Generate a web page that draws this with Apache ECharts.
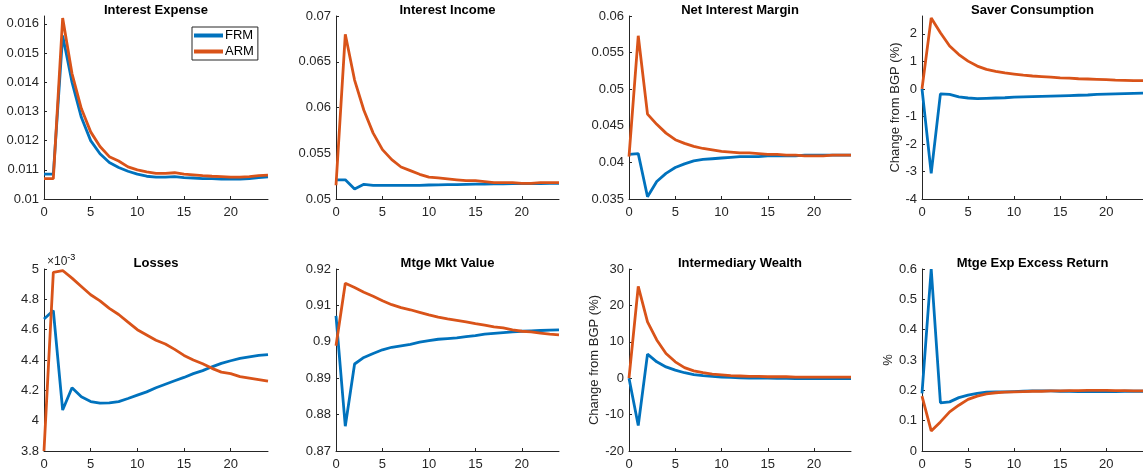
<!DOCTYPE html>
<html><head><meta charset="utf-8">
<script src="https://cdn.jsdelivr.net/npm/echarts@6/dist/echarts.min.js"></script>
<style>html,body{margin:0;padding:0;background:#fff}#c{width:1143px;height:475px}</style>
</head><body><div id="c"></div>
<script>
const periods = [0,1,2,3,4,5,6,7,8,9,10,11,12,13,14,15,16,17,18,19,20,21,22,23,24];
const xTicks = [0,5,10,15,20];

const interestExpenseFRM = [0.01085,0.01085,0.0156,0.0140,0.0128,0.0120,0.01155,0.01125,0.01108,0.01095,0.01085,0.01078,0.01075,0.01075,0.01077,0.01073,0.01072,0.0107,0.0107,0.01068,0.01068,0.01068,0.0107,0.01073,0.01076];
const interestExpenseARM = [0.0107,0.0107,0.0162,0.0143,0.0131,0.0123,0.0118,0.01145,0.0113,0.0111,0.0110,0.01093,0.01088,0.01088,0.0109,0.01085,0.01083,0.0108,0.01078,0.01077,0.01075,0.01075,0.01077,0.0108,0.01082];

const interestIncomeFRM = [0.0521,0.0521,0.0511,0.0516,0.0515,0.0515,0.0515,0.0515,0.0515,0.0515,0.05153,0.05155,0.05157,0.05158,0.0516,0.05162,0.05163,0.05165,0.05166,0.05167,0.05168,0.05168,0.05169,0.0517,0.0517];
const interestIncomeARM = [0.0515,0.0680,0.0630,0.0597,0.0572,0.0554,0.0543,0.0535,0.0531,0.0527,0.0524,0.0523,0.0522,0.0521,0.0520,0.0520,0.0519,0.0518,0.0518,0.0518,0.0517,0.0517,0.0518,0.0518,0.0518];

const nimFRM = [0.0411,0.0412,0.0353,0.0374,0.0385,0.0393,0.0398,0.0402,0.0404,0.0405,0.0406,0.0407,0.0408,0.0408,0.0408,0.0409,0.0409,0.0409,0.0409,0.0410,0.0410,0.0410,0.0410,0.0410,0.0410];
const nimARM = [0.0408,0.0573,0.0466,0.0452,0.0440,0.0431,0.0426,0.0422,0.0419,0.0417,0.0415,0.0414,0.0413,0.0413,0.0412,0.0411,0.0411,0.0410,0.0410,0.0409,0.0409,0.0409,0.0410,0.0410,0.0410];

const saverConsFRM = [0,-3.07,-0.18,-0.2,-0.29,-0.33,-0.35,-0.34,-0.33,-0.32,-0.30,-0.29,-0.28,-0.27,-0.26,-0.25,-0.24,-0.23,-0.22,-0.20,-0.19,-0.18,-0.17,-0.16,-0.15];
const saverConsARM = [0,2.58,2.04,1.56,1.25,1.01,0.83,0.71,0.64,0.58,0.54,0.50,0.47,0.45,0.43,0.40,0.39,0.37,0.36,0.35,0.34,0.32,0.31,0.30,0.30];

// Losses, in units of 1e-3
const lossesFRM = [4.67,4.726,4.07,4.217,4.157,4.126,4.115,4.117,4.126,4.146,4.168,4.19,4.217,4.24,4.263,4.285,4.31,4.33,4.355,4.378,4.395,4.41,4.42,4.43,4.436];
const lossesARM = [3.8,4.978,4.99,4.94,4.885,4.83,4.79,4.74,4.70,4.65,4.60,4.565,4.53,4.505,4.47,4.43,4.40,4.375,4.345,4.32,4.31,4.29,4.28,4.27,4.26];

const mktValueFRM = [0.9071,0.8768,0.8939,0.8957,0.8968,0.8978,0.8985,0.8989,0.8993,0.8999,0.9003,0.9007,0.9009,0.9011,0.9014,0.9017,0.9021,0.9023,0.9025,0.9027,0.9029,0.9030,0.9031,0.9032,0.9033];
const mktValueARM = [0.8989,0.9161,0.9149,0.9136,0.9125,0.9113,0.9102,0.9094,0.9088,0.9081,0.9074,0.9068,0.9063,0.9059,0.9055,0.9050,0.9046,0.9041,0.9038,0.9033,0.9029,0.9027,0.9024,0.9021,0.9019];

const wealthFRM = [0,-13,6.6,4.5,3.1,2.2,1.5,1.0,0.7,0.5,0.3,0.2,0.1,0.05,0,0,-0.05,-0.05,-0.1,-0.1,-0.1,-0.1,-0.1,-0.1,-0.1];
const wealthARM = [0,25.2,15.5,10.5,6.8,4.5,2.9,2.0,1.5,1.1,0.9,0.7,0.6,0.5,0.5,0.4,0.4,0.4,0.3,0.3,0.3,0.3,0.3,0.3,0.3];

const excessRetFRM = [0.19,0.60,0.159,0.162,0.176,0.184,0.19,0.194,0.195,0.195,0.196,0.197,0.198,0.198,0.198,0.197,0.197,0.196,0.196,0.196,0.196,0.196,0.197,0.197,0.197];
const excessRetARM = [0.181,0.066,0.096,0.129,0.151,0.17,0.181,0.188,0.192,0.194,0.195,0.196,0.197,0.197,0.198,0.198,0.199,0.199,0.2,0.2,0.2,0.199,0.199,0.198,0.198];

const titles = ['Interest Expense','Interest Income','Net Interest Margin','Saver Consumption','Losses','Mtge Mkt Value','Intermediary Wealth','Mtge Exp Excess Return'];
const yTicks = [
  [0.010,0.011,0.012,0.013,0.014,0.015,0.016],
  [0.05,0.055,0.06,0.065,0.07],
  [0.035,0.04,0.045,0.05,0.055,0.06],
  [-4,-3,-2,-1,0,1,2],
  [3.8,4,4.2,4.4,4.6,4.8,5],
  [0.87,0.88,0.89,0.90,0.91,0.92],
  [-20,-10,0,10,20,30],
  [0,0.1,0.2,0.3,0.4,0.5,0.6]
];
const yRanges = [[0.01,0.01627],[0.05,0.07],[0.035,0.06],[-4,2.65],[3.8,5],[0.87,0.92],[-20,30],[0,0.6]];
const yNames = ['','','','Change from BGP (%)','','','Change from BGP (%)','%'];
const frmSeries = [interestExpenseFRM,interestIncomeFRM,nimFRM,saverConsFRM,lossesFRM,mktValueFRM,wealthFRM,excessRetFRM];
const armSeries = [interestExpenseARM,interestIncomeARM,nimARM,saverConsARM,lossesARM,mktValueARM,wealthARM,excessRetARM];

const BLUE = '#0072BD', ORANGE = '#D95319', AX = '#262626';
const lefts = [44,336,629,922], widths = [224,223,222,221];
const tops = [16,269], heights = [183,182];
const nameGaps = [0,0,0,19,0,0,23,27];

const chart = echarts.init(document.getElementById('c'));
const grids = [], xAxes = [], yAxes = [], series = [], graphics = [];
const fmt = v => String(parseFloat(Number(v).toFixed(6)));

for (let i = 0; i < 8; i++) {
  const r = Math.floor(i/4), c = i%4;
  grids.push({left: lefts[c], top: tops[r], width: widths[c], height: heights[r], containLabel: false});
  xAxes.push({
    type:'value', gridIndex:i, min:0, max:24,
    axisLine:{show:true, onZero:false, lineStyle:{color:AX, width:1}},
    axisTick:{show:true, inside:true, length:3, lineStyle:{color:AX}, customValues:xTicks},
    axisLabel:{color:AX, fontSize:13, fontFamily:'Liberation Sans, Arial', margin:7, customValues:xTicks, formatter:fmt},
    splitLine:{show:false}
  });
  yAxes.push({
    type:'value', gridIndex:i, min:yRanges[i][0], max:yRanges[i][1],
    name: yNames[i], nameLocation:'middle', nameGap:nameGaps[i], nameRotate:90,
    nameTextStyle:{color:AX, fontSize:13, fontFamily:'Liberation Sans, Arial'},
    axisLine:{show:true, onZero:false, lineStyle:{color:AX, width:1}},
    axisTick:{show:true, inside:true, length:3, lineStyle:{color:AX}, customValues:yTicks[i]},
    axisLabel:{color:AX, fontSize:13, fontFamily:'Liberation Sans, Arial', margin:5, customValues:yTicks[i], formatter:fmt},
    splitLine:{show:false}
  });
  series.push({
    name:'FRM', type:'line', xAxisIndex:i, yAxisIndex:i, showSymbol:false, symbol:'none',
    lineStyle:{color:BLUE, width:2.8}, itemStyle:{color:BLUE},
    data: periods.map((p,k)=>[p, frmSeries[i][k]])
  });
  series.push({
    name:'ARM', type:'line', xAxisIndex:i, yAxisIndex:i, showSymbol:false, symbol:'none',
    lineStyle:{color:ORANGE, width:2.8}, itemStyle:{color:ORANGE},
    data: periods.map((p,k)=>[p, armSeries[i][k]])
  });
  graphics.push({
    type:'text', x: lefts[c] + widths[c]/2, y: r===0 ? 10 : 263,
    style:{text:titles[i], textAlign:'center', textVerticalAlign:'middle',
      font:'bold 13px "Liberation Sans", Arial', fill:'#000'}
  });
}
graphics.push({
  type:'text', x:47, y:262,
  style:{text:'{a|\u00d710}{b|-3}', textVerticalAlign:'middle',
    rich:{a:{fontSize:12, fontFamily:'Liberation Sans, Arial', fill:AX, color:AX},
          b:{fontSize:9, fontFamily:'Liberation Sans, Arial', color:AX, padding:[0,0,8,0]}}}
});

chart.setOption({
  animation:false,
  backgroundColor:'#fff',
  grid:grids, xAxis:xAxes, yAxis:yAxes, series:series, graphic:graphics,
  legend:{
    data:['FRM','ARM'], orient:'vertical', left:192, top:27,
    icon:'rect', itemWidth:29, itemHeight:4, itemGap:3,
    padding:[2,4,2,2], borderColor:AX, borderWidth:1, backgroundColor:'#fff',
    textStyle:{color:'#000', fontSize:13, fontFamily:'Liberation Sans, Arial', padding:[0,0,0,-3]}
  }
});
</script></body></html>
